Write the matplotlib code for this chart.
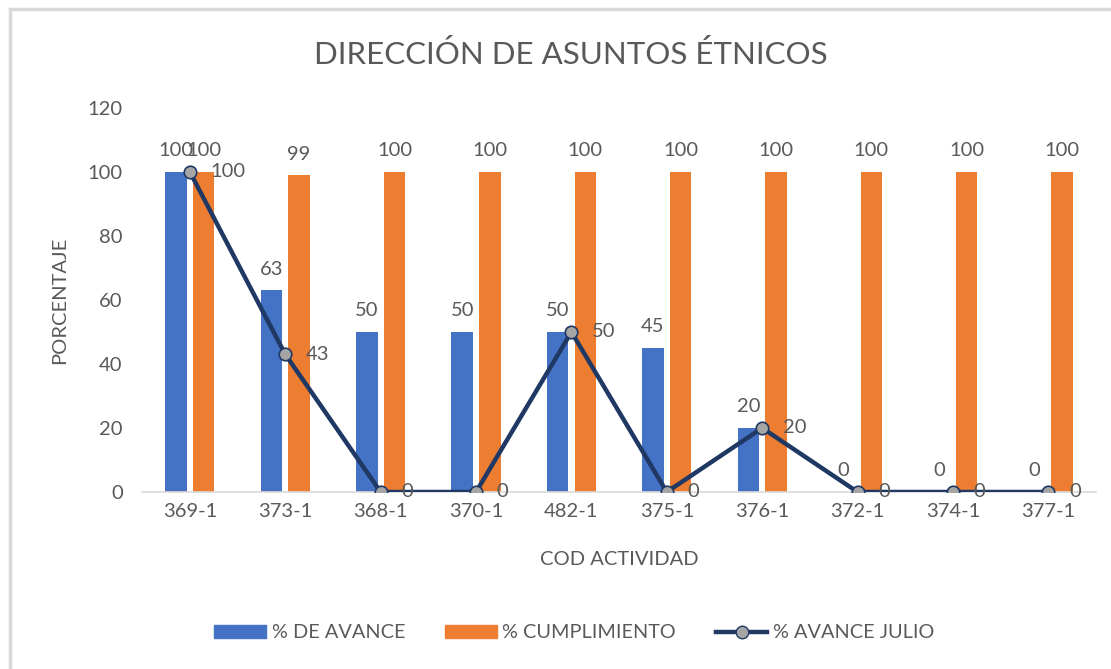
import matplotlib.pyplot as plt
import numpy as np
from matplotlib.lines import Line2D
from matplotlib.patches import Patch

plt.rcParams['font.family'] = ['Lato', 'DejaVu Sans']

codes = ["369-1", "373-1", "368-1", "370-1", "482-1", "375-1", "376-1", "372-1", "374-1", "377-1"]
avance = [100, 63, 50, 50, 50, 45, 20, 0, 0, 0]
cumplimiento = [100, 99, 100, 100, 100, 100, 100, 100, 100, 100]
avance_julio = [100, 43, 0, 0, 50, 0, 20, 0, 0, 0]

blue = "#4472C4"
orange = "#ED7D31"
navy = "#203864"
gray_txt = "#595959"

fig = plt.figure(figsize=(11.11, 6.69), dpi=100)
ax = fig.add_axes([0.128, 0.2646, 0.8585, 0.574])

x = np.arange(len(codes))
w = 0.225
ax.bar(x - 0.145, avance, w, color=blue)
ax.bar(x + 0.145, cumplimiento, w, color=orange)
ax.plot(x, avance_julio, color=navy, lw=3.2, marker='o', ms=9,
        mfc="#A5A5A5", mec=navy, mew=1.2, zorder=5)

fs = 14.5
for i in range(len(codes)):
    ax.annotate(str(avance[i]), (x[i] - 0.145, avance[i]), xytext=(0, 9),
                textcoords='offset points', ha='center', va='bottom',
                fontsize=fs, color=gray_txt)
    ax.annotate(str(cumplimiento[i]), (x[i] + 0.145, cumplimiento[i]), xytext=(0, 9),
                textcoords='offset points', ha='center', va='bottom',
                fontsize=fs, color=gray_txt)
    ax.annotate(str(avance_julio[i]), (x[i], avance_julio[i]), xytext=(15, 0),
                textcoords='offset points', ha='left', va='center',
                fontsize=fs, color=gray_txt, zorder=6)

ax.set_xlim(-0.5, len(codes) - 0.5)
ax.set_ylim(0, 120)
ax.set_yticks(range(0, 121, 20))
ax.set_xticks(x)
ax.set_xticklabels(codes)
ax.tick_params(length=0, labelsize=fs, labelcolor=gray_txt, pad=8)
ax.tick_params(axis='y', pad=14)
for s in ['top', 'right', 'left']:
    ax.spines[s].set_visible(False)
ax.spines['bottom'].set_color("#d9d9d9")
ax.spines['bottom'].set_linewidth(1.2)

ax.set_xlabel("COD ACTIVIDAD", fontsize=fs, color=gray_txt, labelpad=22)
ax.set_ylabel("PORCENTAJE", fontsize=fs, color=gray_txt, labelpad=14)

fig.text(0.514, 1 - 55 / 669, "DIRECCIÓN DE ASUNTOS ÉTNICOS", ha='center', va='center',
         fontsize=22.5, color=gray_txt)

handles = [Patch(color=blue), Patch(color=orange),
           Line2D([], [], color=navy, lw=3.2, marker='o', ms=9, mfc="#A5A5A5", mec=navy)]
fig.legend(handles, ["% DE AVANCE", "% CUMPLIMIENTO", "% AVANCE JULIO"],
           loc='center', bbox_to_anchor=(0.517, 1 - 633 / 669), ncol=3, frameon=False,
           fontsize=14.3, labelcolor=gray_txt, handlelength=2.6, handleheight=0.6,
           handletextpad=0.3, columnspacing=2.0)

# chart frame
fig.add_artist(Line2D([10 / 1111, 1.0], [1 - 9 / 669, 1 - 9 / 669], color="#d9d9d9", lw=2.5))
fig.add_artist(Line2D([10 / 1111, 10 / 1111], [0, 1 - 9 / 669], color="#d9d9d9", lw=2.5))

fig.savefig("out.png", dpi=100)
